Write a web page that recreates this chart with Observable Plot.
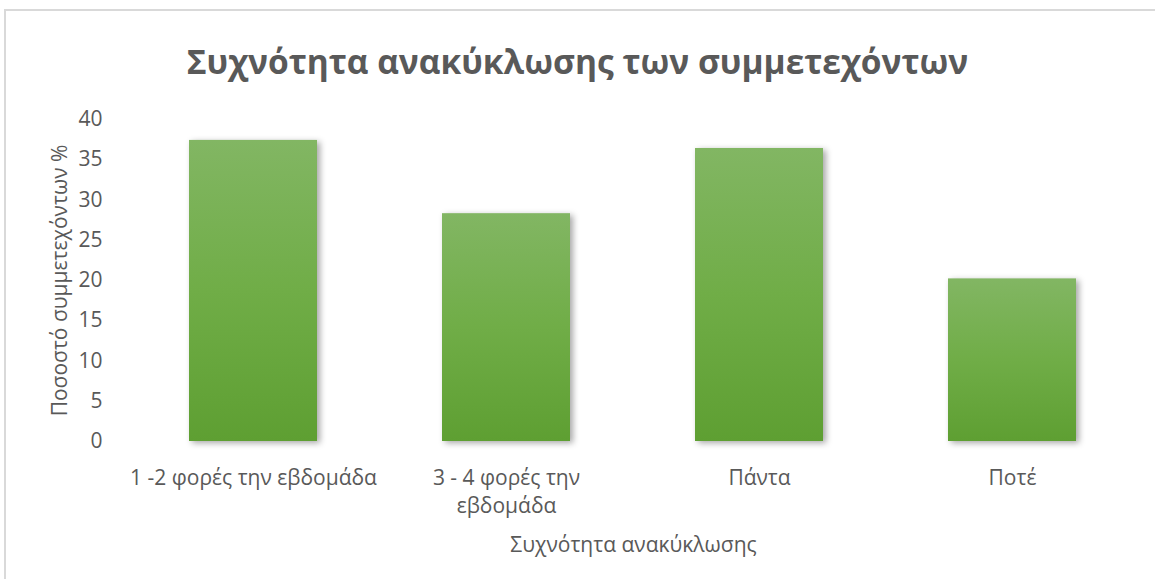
<!DOCTYPE html>
<html><head><meta charset="utf-8">
<script src="https://cdn.jsdelivr.net/npm/d3@7"></script>
<script src="https://cdn.jsdelivr.net/npm/@observablehq/plot@0.6"></script>
<style>
html,body{margin:0;padding:0;background:#fff;overflow:hidden;width:1155px;height:579px;}
#frame{position:absolute;left:4px;top:9px;width:1300px;height:700px;border:2px solid #d9d9d9;box-sizing:border-box;}
#title{position:absolute;left:0;width:1155px;top:41px;text-align:center;font-family:"Open Sans",sans-serif;font-weight:bold;font-size:33.5px;color:#595959;line-height:1.2;}
#chart{position:absolute;left:0;top:0;}
</style></head><body>
<div id="frame"></div>
<div id="chart"></div>
<div id="title">Συχνότητα ανακύκλωσης των συμμετεχόντων</div>
<script>
const categories = ["1 -2 φορές την εβδομάδα", "3 - 4 φορές την εβδομάδα", "Πάντα", "Ποτέ"];
const tickLabels = ["1 -2 φορές την εβδομάδα", "3 - 4 φορές την\nεβδομάδα", "Πάντα", "Ποτέ"];
const values = [37.4, 28.3, 36.4, 20.2];
const yTicks = [0, 5, 10, 15, 20, 25, 30, 35, 40];
const yTitle = "Ποσοστό συμμετεχόντων %";
const xTitle = "Συχνότητα ανακύκλωσης";

const data = categories.map((c, i) => ({category: c, value: values[i]}));

const chart = Plot.plot({
  width: 1155, height: 579,
  marginTop: 119, marginBottom: 138, marginLeft: 127, marginRight: 16,
  style: {fontFamily: '"Open Sans", sans-serif', fontSize: "21px", color: "#595959", background: "transparent"},
  x: {domain: categories, paddingInner: 0.494, paddingOuter: 0.247, label: null},
  y: {domain: [0, 40], label: null},
  marks: [
    Plot.barY(data, {x: "category", y: "value", fill: "url(#barGrad)"}),
    Plot.axisY({ticks: yTicks, tickSize: 0, tickPadding: 25, fontSize: 21, label: yTitle, labelAnchor: "center", labelOffset: 75, labelArrow: "none"}),
    Plot.axisX({tickSize: 0, tickPadding: 24, fontSize: 21, tickFormat: d => tickLabels[categories.indexOf(d)], lineHeight: 1.33, label: xTitle, labelAnchor: "center", labelOffset: 110, labelArrow: "none"})
  ]
});

const defs = d3.select(chart).insert("defs", ":first-child");
const grad = defs.append("linearGradient").attr("id", "barGrad").attr("x1", 0).attr("y1", 0).attr("x2", 0).attr("y2", 1);
grad.append("stop").attr("offset", "0%").attr("stop-color", "#82b663");
grad.append("stop").attr("offset", "50%").attr("stop-color", "#70ad47");
grad.append("stop").attr("offset", "100%").attr("stop-color", "#5e9f32");
d3.select(chart).selectAll('g[aria-label="bar"]').style("filter", "drop-shadow(3px 2px 3px rgba(0,0,0,0.35))");

document.getElementById("chart").appendChild(chart);
</script>
</body></html>
